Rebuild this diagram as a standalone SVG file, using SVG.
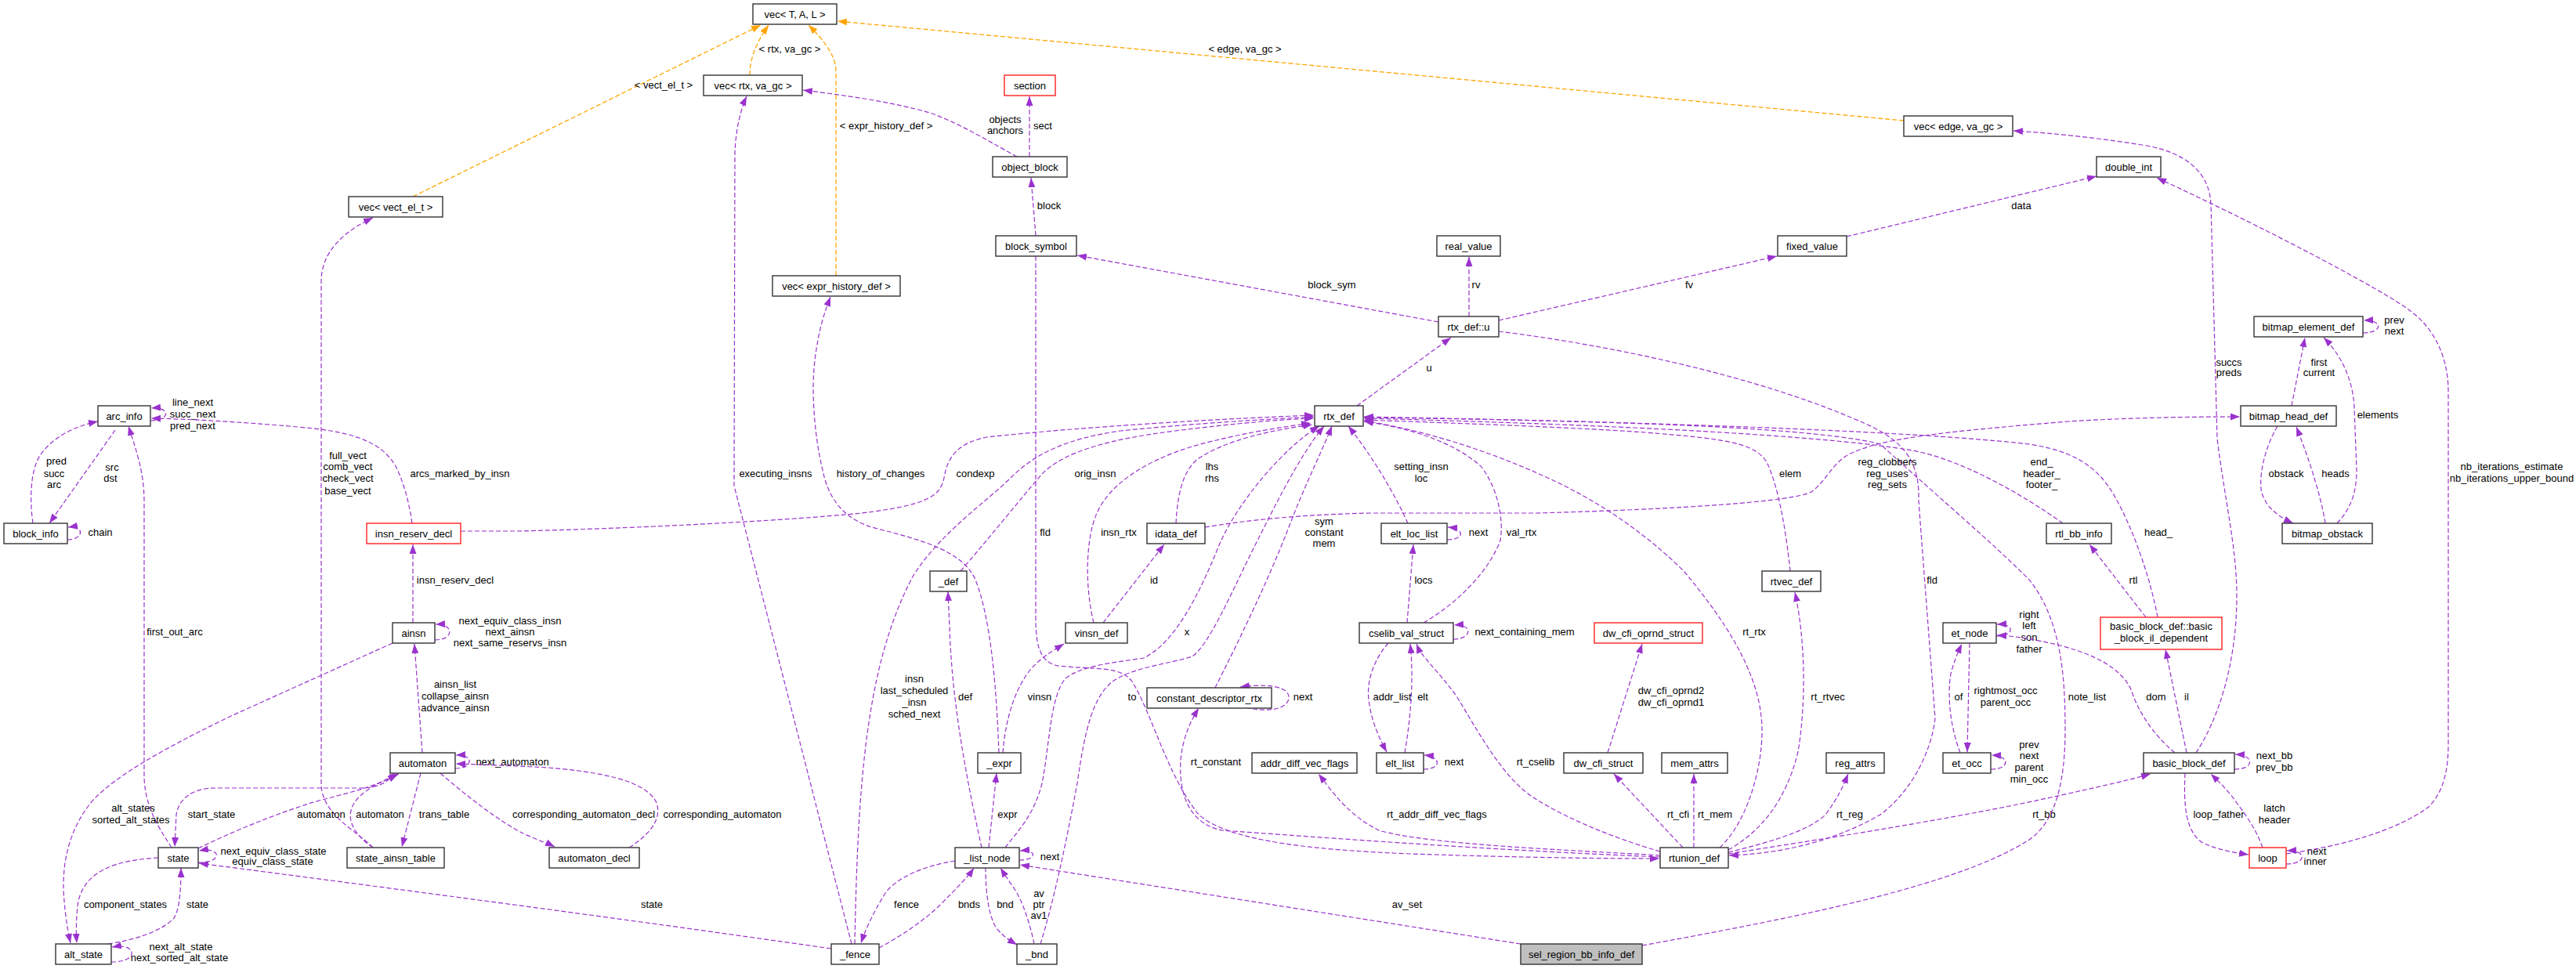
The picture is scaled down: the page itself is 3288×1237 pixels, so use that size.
<svg xmlns="http://www.w3.org/2000/svg" width="3288" height="1237" viewBox="0 0 3288 1237">
<defs>
<marker id="a" viewBox="0 0 12 9" refX="12" refY="4.5" markerWidth="12" markerHeight="9" markerUnits="userSpaceOnUse" orient="auto"><path d="M0,0L12,4.5L0,9z" fill="#9a32cd"/></marker>
<marker id="ao" viewBox="0 0 12 9" refX="12" refY="4.5" markerWidth="12" markerHeight="9" markerUnits="userSpaceOnUse" orient="auto"><path d="M0,0L12,4.5L0,9z" fill="#ffa500"/></marker>
<style>
.e{fill:none;stroke:#9a32cd;stroke-width:1.2;stroke-dasharray:6,3;marker-end:url(#a)}
.o{fill:none;stroke:#ffa500;stroke-width:1.3;stroke-dasharray:6,3;marker-end:url(#ao)}
text{font-family:"Liberation Sans",Arial,sans-serif;font-size:13px;text-anchor:middle;fill:#000}
.n rect{fill:#fff;stroke:#333;stroke-width:1.4}
.r rect{fill:#fff;stroke:#ff2020;stroke-width:1.4}
.g rect{fill:#bfbfbf;stroke:#333;stroke-width:1.4}
</style>
</defs>
<rect width="3288" height="1237" fill="#fff"/>
<g id="edges">
<path class="o" d="M527,251 L971,32"/><text x="847" y="113">&lt; vect_el_t &gt;</text>
<path class="o" d="M957,96 C957,75 965,55 981,32"/><text x="1008" y="67">&lt; rtx, va_gc &gt;</text>
<path class="o" d="M1067,352 L1067,91 C1067,70 1050,50 1032,32"/><text x="1131" y="165">&lt; expr_history_def &gt;</text>
<path class="o" d="M2430,154 L1069,27"/><text x="1589" y="67">&lt; edge, va_gc &gt;</text>

<path class="e" d="M476,1082 C455,1060 410,1040 410,1000 L410,360 C410,320 440,295 476,278"/>
<text x="444" y="586">full_vect</text><text x="444" y="600">comb_vect</text><text x="444" y="615">check_vect</text><text x="444" y="631">base_vect</text>
<path class="e" d="M192,537 C218,537 218,519 193,521"/>
<text x="246" y="518">line_next</text><text x="246" y="533">succ_next</text><text x="246" y="548">pred_next</text>
<path class="e" d="M42,668 C38,640 38,600 52,580 C70,555 100,543 125,538"/>
<text x="72" y="593">pred</text><text x="69" y="609">succ</text><text x="69" y="623">arc</text>
<path class="e" d="M147,549 L63,668"/><text x="143" y="601">src</text><text x="141" y="615">dst</text>
<path class="e" d="M86,689 C108,689 108,670 87,673"/><text x="128" y="684">chain</text>
<path class="e" d="M219,1082 C205,1060 184,1030 184,990 L184,640 C184,600 172,570 164,544"/><text x="223" y="811">first_out_arc</text>
<path class="e" d="M526,668 C522,640 515,615 505,595 C485,560 440,550 380,545 C300,538 240,535 193,534"/><text x="587" y="609">arcs_marked_by_insn</text>
<path class="e" d="M527,795 L527,695"/><text x="581" y="745">insn_reserv_decl</text>
<path class="e" d="M555,817 C580,817 580,796 556,797"/>
<text x="651" y="797">next_equiv_class_insn</text><text x="651" y="811">next_ainsn</text><text x="651" y="825">next_same_reservs_insn</text>
<path class="e" d="M501,821 L295,914 C200,960 150,990 120,1020 C85,1060 78,1110 82,1150 C84,1175 87,1190 90,1204"/>
<text x="170" y="1036">alt_states</text><text x="167" y="1051">sorted_alt_states</text>
<path class="e" d="M202,1095 C150,1098 110,1110 100,1150 C97,1170 97,1190 98,1204"/><text x="160" y="1159">component_states</text>
<path class="e" d="M138,1205 C170,1200 205,1190 222,1172 C230,1160 231,1130 231,1108"/><text x="252" y="1159">state</text>
<path class="e" d="M142,1228 C160,1228 170,1222 168,1215 C165,1208 155,1207 143,1209"/>
<text x="231" y="1213">next_alt_state</text><text x="229" y="1227">next_sorted_alt_state</text>
<path class="e" d="M253,1101 C272,1101 278,1095 276,1090 C273,1085 265,1084 254,1086"/>
<text x="349" y="1091">next_equiv_class_state</text><text x="348" y="1104">equiv_class_state</text>
<path class="e" d="M503,987 C495,1000 480,1006 460,1006 L275,1006 C245,1006 228,1020 225,1040 L223,1081"/><text x="270" y="1044">start_state</text>
<path class="e" d="M253,1083 C300,1060 350,1040 400,1024 C440,1013 480,1005 507,988"/><text x="410" y="1044">automaton</text>
<path class="e" d="M476,1082 C455,1068 444,1050 448,1035 C452,1015 480,1000 509,988"/><text x="485" y="1044">automaton</text>
<path class="e" d="M537,987 L513,1081"/><text x="567" y="1044">trans_table</text>
<path class="e" d="M539,961 L529,822"/>
<text x="581" y="878">ainsn_list</text><text x="581" y="893">collapse_ainsn</text><text x="581" y="908">advance_ainsn</text>
<path class="e" d="M581,981 C604,981 606,963 582,964"/><text x="654" y="977">next_automaton</text>
<path class="e" d="M803,1082 C830,1065 845,1045 838,1025 C825,995 760,985 700,980 C650,977 610,976 582,975"/><text x="922" y="1044">corresponding_automaton</text>
<path class="e" d="M562,987 C600,1020 640,1050 668,1064 C685,1072 700,1077 708,1081"/><text x="745" y="1044">corresponding_automaton_decl</text>
<path class="e" d="M1061,1211 C900,1188 700,1160 254,1102"/><text x="832" y="1159">state</text>
<path class="e" d="M1087,1205 L937,620 L938,200 C938,170 945,140 953,123"/><text x="990" y="609">executing_insns</text>
<path class="e" d="M1275,961 C1272,880 1265,790 1245,740 C1230,705 1180,690 1120,675 C1080,665 1058,640 1050,600 C1040,560 1035,500 1040,460 C1045,420 1052,400 1060,379"/><text x="1124" y="609">history_of_changes</text>
<path class="e" d="M1091,1205 C1095,1000 1105,850 1165,736 C1200,680 1260,640 1290,610 C1320,580 1360,560 1430,550 C1530,540 1620,535 1677,532"/>
<text x="1167" y="871">insn</text><text x="1167" y="886">last_scheduled</text><text x="1167" y="901">_insn</text><text x="1167" y="916">sched_next</text>
<path class="e" d="M1253,1082 C1235,1000 1215,900 1212,800 L1210,755"/><text x="1232" y="894">def</text>
<path class="e" d="M1262,1082 L1272,987"/><text x="1286" y="1044">expr</text>
<path class="e" d="M1219,1099 C1180,1105 1145,1120 1130,1140 C1115,1165 1105,1185 1099,1204"/><text x="1157" y="1159">fence</text>
<path class="e" d="M1122,1210 C1150,1195 1180,1175 1200,1155 C1220,1135 1235,1120 1243,1108"/><text x="1237" y="1159">bnds</text>
<path class="e" d="M1258,1107 C1258,1140 1262,1170 1272,1185 C1280,1195 1288,1200 1298,1206"/><text x="1283" y="1159">bnd</text>
<path class="e" d="M1320,1205 C1315,1180 1305,1150 1295,1135 C1288,1125 1282,1116 1277,1108"/>
<text x="1326" y="1145">av</text><text x="1326" y="1159">ptr</text><text x="1326" y="1173">av1</text>
<path class="e" d="M1301,1098 C1324,1098 1324,1084 1302,1086"/><text x="1340" y="1098">next</text>
<path class="e" d="M1941,1205 L1302,1104"/><text x="1796" y="1159">av_set</text>
<path class="e" d="M1328,1205 C1345,1150 1360,1080 1375,1000 C1385,930 1395,890 1420,870 C1445,852 1490,848 1522,838 C1545,820 1570,760 1600,700 C1630,640 1660,580 1690,544"/><text x="1445" y="894">to</text>
<path class="e" d="M1283,1082 C1300,1060 1320,1040 1330,1000 C1340,950 1340,890 1360,866 C1380,850 1420,846 1460,840 C1500,820 1530,760 1556,696 C1580,640 1640,570 1684,544"/><text x="1515" y="811">x</text>
<path class="e" d="M1501,668 C1503,630 1510,600 1530,585 C1570,560 1620,550 1675,542"/><text x="1547" y="600">lhs</text><text x="1547" y="615">rhs</text>
<path class="e" d="M1408,795 L1486,695"/><text x="1473" y="745">id</text>
<path class="e" d="M1396,795 C1385,750 1385,690 1400,655 C1420,610 1480,580 1540,565 C1600,550 1640,545 1673,540"/><text x="1428" y="684">insn_rtx</text>
<path class="e" d="M1226,729 C1260,690 1300,640 1330,605 C1360,575 1420,560 1500,550 C1580,540 1640,535 1677,534"/><text x="1398" y="609">orig_insn</text>
<path class="e" d="M588,678 L660,678 C800,675 1000,665 1100,655 C1180,645 1200,635 1205,610 C1210,580 1225,565 1260,558 C1380,545 1550,535 1677,530"/><text x="1245" y="609">condexp</text>
<path class="e" d="M1551,878 C1580,820 1620,740 1650,660 C1670,610 1690,570 1700,544"/>
<text x="1690" y="670">sym</text><text x="1690" y="684">constant</text><text x="1690" y="698">mem</text>
<path class="e" d="M1590,903 C1620,910 1645,905 1645,890 C1645,877 1620,872 1583,877"/><text x="1663" y="894">next</text>
<path class="e" d="M1797,668 C1780,630 1750,580 1721,544"/><text x="1814" y="600">setting_insn</text><text x="1814" y="615">loc</text>
<path class="e" d="M1847,689 C1870,689 1870,675 1848,673"/><text x="1887" y="684">next</text>
<path class="e" d="M1796,795 L1804,695"/><text x="1817" y="745">locs</text>
<path class="e" d="M1817,795 C1860,770 1900,730 1915,690 C1920,660 1910,620 1890,595 C1850,560 1790,545 1741,538"/><text x="1942" y="684">val_rtx</text>
<path class="e" d="M1855,816 C1880,816 1880,796 1856,798"/><text x="1946" y="811">next_containing_mem</text>
<path class="e" d="M1793,961 C1800,920 1805,870 1800,822"/><text x="1816" y="894">elt</text>
<path class="e" d="M1772,821 C1755,840 1742,870 1748,900 C1752,925 1762,945 1770,960"/><text x="1777" y="894">addr_list</text>
<path class="e" d="M1817,982 C1840,982 1840,966 1818,964"/><text x="1856" y="977">next</text>
<path class="e" d="M2119,1087 C2060,1070 2000,1045 1960,1020 C1920,995 1890,940 1860,890 C1835,855 1815,840 1808,822"/><text x="1960" y="977">rt_cselib</text>
<path class="e" d="M2119,1094 C1900,1085 1700,1070 1560,1060 C1510,1050 1505,1000 1507,970 C1510,940 1520,920 1530,904"/><text x="1552" y="977">rt_constant</text>
<path class="e" d="M2119,1092 C2000,1085 1820,1078 1760,1060 C1720,1040 1700,1010 1683,988"/><text x="1834" y="1044">rt_addr_diff_vec_flags</text>
<path class="e" d="M1322,327 L1322,790 C1322,830 1330,845 1350,850 C1400,855 1430,850 1445,870 C1470,910 1490,990 1530,1040 C1570,1075 1680,1085 1800,1090 C1950,1095 2050,1096 2118,1096"/><text x="1334" y="684">fld</text>
<path class="e" d="M2148,1082 L2060,988"/><text x="2142" y="1044">rt_cfi</text>
<path class="e" d="M2162,1082 L2162,988"/><text x="2189" y="1044">rt_mem</text>
<path class="e" d="M2052,961 L2096,822"/><text x="2133" y="886">dw_cfi_oprnd2</text><text x="2133" y="901">dw_cfi_oprnd1</text>
<path class="e" d="M2195,1082 C2230,1050 2250,980 2249,930 C2248,860 2200,790 2150,730 C2100,680 2040,640 1980,612 C1900,575 1820,550 1741,537"/><text x="2239" y="811">rt_rtx</text>
<path class="e" d="M2206,1085 C2250,1060 2280,1020 2295,960 C2305,900 2305,820 2291,756"/><text x="2333" y="894">rt_rtvec</text>
<path class="e" d="M2285,729 C2280,680 2270,620 2255,590 C2240,565 2200,560 2100,552 C2000,545 1850,540 1741,536"/><text x="2285" y="609">elem</text>
<path class="e" d="M2206,1088 C2260,1075 2310,1060 2330,1040 C2345,1020 2352,1005 2359,988"/><text x="2361" y="1044">rt_reg</text>
<path class="e" d="M1913,423 C2050,440 2250,480 2390,545 C2440,570 2450,600 2449,640 L2470,917 C2465,960 2440,1010 2400,1040 C2330,1080 2260,1090 2207,1092"/><text x="2466" y="745">fld</text>
<path class="e" d="M1913,409 L2268,327"/><text x="2156" y="368">fv</text>
<path class="e" d="M1875,404 L1875,328"/><text x="1884" y="368">rv</text>
<path class="e" d="M1836,411 L1375,326"/><text x="1700" y="368">block_sym</text>
<path class="e" d="M1732,518 L1852,431"/><text x="1824" y="474">u</text>
<path class="e" d="M2357,302 L2676,225"/><text x="2580" y="267">data</text>
<path class="e" d="M1322,301 L1316,227"/><text x="1339" y="267">block</text>
<path class="e" d="M1314,200 L1314,123"/><text x="1331" y="165">sect</text>
<path class="e" d="M1298,200 C1270,185 1230,160 1190,145 C1140,130 1080,122 1025,115"/><text x="1283" y="157">objects</text><text x="1283" y="171">anchors</text>
<path class="e" d="M2925,518 L2942,431"/><text x="2960" y="467">first</text><text x="2960" y="480">current</text>
<path class="e" d="M3016,425 C3042,425 3042,408 3017,409"/><text x="3056" y="413">prev</text><text x="3056" y="427">next</text>
<path class="e" d="M2983,668 C3000,650 3008,630 3008,600 L3005,520 C3003,480 2985,450 2966,431"/><text x="3035" y="534">elements</text>
<path class="e" d="M2907,544 C2892,570 2884,600 2886,625 C2890,645 2905,658 2927,668"/><text x="2918" y="609">obstack</text>
<path class="e" d="M2968,668 C2962,630 2945,580 2931,545"/><text x="2981" y="609">heads</text>
<path class="e" d="M2548,812 C2572,812 2572,796 2549,797"/>
<text x="2590" y="789">right</text><text x="2590" y="803">left</text><text x="2590" y="818">son</text><text x="2590" y="833">father</text>
<path class="e" d="M2776,961 C2745,935 2728,905 2720,880 C2705,850 2670,835 2630,824 C2600,817 2575,812 2549,811"/><text x="2752" y="894">dom</text>
<path class="e" d="M2502,961 C2490,930 2485,890 2490,860 C2494,845 2499,833 2504,822"/><text x="2500" y="894">of</text>
<path class="e" d="M2514,821 L2511,960"/><text x="2560" y="886">rightmost_occ</text><text x="2560" y="901">parent_occ</text>
<path class="e" d="M2541,982 C2566,982 2566,965 2542,964"/>
<text x="2590" y="955">prev</text><text x="2590" y="969">next</text><text x="2590" y="984">parent</text><text x="2590" y="999">min_occ</text>
<path class="e" d="M2206,1090 C2300,1075 2500,1045 2640,1013 C2690,1002 2720,995 2745,988"/><text x="2609" y="1044">rt_bb</text>
<path class="e" d="M2096,1207 C2300,1170 2500,1130 2590,1072 C2630,1045 2636,980 2636,930 C2636,860 2630,790 2590,740 C2540,690 2480,640 2400,567 C2300,540 1900,535 1741,533"/><text x="2664" y="894">note_list</text>
<path class="e" d="M2633,668 C2580,630 2500,585 2440,575 C2300,550 1900,538 1741,534"/>
<text x="2606" y="594">end_</text><text x="2606" y="609">header_</text><text x="2606" y="623">footer_</text>
<path class="e" d="M2739,788 L2667,695"/><text x="2723" y="745">rtl</text>
<path class="e" d="M2754,788 C2745,740 2725,680 2700,635 C2675,590 2640,575 2590,567 C2400,545 1900,535 1741,532"/><text x="2755" y="684">head_</text>
<path class="e" d="M2791,961 L2764,829"/><text x="2791" y="894">il</text>
<path class="e" d="M2803,961 C2830,920 2855,850 2855,760 C2855,700 2840,640 2830,560 L2822,260 C2820,220 2790,195 2740,186 C2680,176 2620,170 2570,167"/>
<text x="2845" y="467">succs</text><text x="2845" y="480">preds</text>
<path class="e" d="M2852,982 C2878,982 2878,964 2853,963"/><text x="2903" y="969">next_bb</text><text x="2903" y="984">prev_bb</text>
<path class="e" d="M2789,987 C2787,1030 2790,1060 2810,1075 C2830,1085 2850,1088 2870,1091"/><text x="2832" y="1044">loop_father</text>
<path class="e" d="M2888,1082 C2880,1060 2870,1045 2855,1025 C2845,1010 2832,998 2822,988"/><text x="2903" y="1036">latch</text><text x="2903" y="1051">header</text>
<path class="e" d="M2918,1103 C2945,1103 2945,1085 2919,1086"/><text x="2957" y="1091">next</text><text x="2955" y="1104">inner</text>
<path class="e" d="M2918,1090 C2990,1080 3060,1060 3100,1030 C3120,1010 3125,980 3125,950 L3125,500 C3125,460 3110,420 3074,395 C3040,370 2900,295 2753,227"/>
<text x="3206" y="600">nb_iterations_estimate</text><text x="3206" y="615">nb_iterations_upper_bound</text>
<path class="e" d="M1538,673 C1600,663 1660,657 1750,655 L1960,655 C2150,650 2290,640 2312,628 C2330,615 2340,590 2360,580 C2400,560 2470,552 2640,538 C2720,533 2800,532 2859,532"/>
<text x="2409" y="594">reg_clobbers</text><text x="2409" y="609">reg_uses</text><text x="2409" y="623">reg_sets</text>
<path class="e" d="M1280,961 C1283,920 1295,880 1315,855 C1330,838 1345,830 1358,822"/><text x="1327" y="894">vinsn</text>
</g>
<g id="n_vecTAL" class="n"><rect x="961" y="5" width="107" height="26"/><text x="1014.5" y="22.5">vec&lt; T, A, L &gt;</text></g>
<g id="n_vecrtx" class="n"><rect x="898" y="96" width="126" height="26"/><text x="961" y="113.5">vec&lt; rtx, va_gc &gt;</text></g>
<g id="n_section" class="r"><rect x="1282" y="96" width="65" height="26"/><text x="1314.5" y="113.5">section</text></g>
<g id="n_object_block" class="n"><rect x="1267" y="200" width="95" height="26"/><text x="1314.5" y="217.5">object_block</text></g>
<g id="n_vecvect" class="n"><rect x="445" y="251" width="120" height="26"/><text x="505" y="268.5">vec&lt; vect_el_t &gt;</text></g>
<g id="n_vecedge" class="n"><rect x="2430" y="148" width="139" height="26"/><text x="2499.5" y="165.5">vec&lt; edge, va_gc &gt;</text></g>
<g id="n_double_int" class="n"><rect x="2676" y="200" width="82" height="26"/><text x="2717" y="217.5">double_int</text></g>
<g id="n_block_symbol" class="n"><rect x="1271" y="301" width="103" height="26"/><text x="1322.5" y="318.5">block_symbol</text></g>
<g id="n_real_value" class="n"><rect x="1834" y="301" width="81" height="26"/><text x="1874.5" y="318.5">real_value</text></g>
<g id="n_fixed_value" class="n"><rect x="2269" y="301" width="88" height="26"/><text x="2313" y="318.5">fixed_value</text></g>
<g id="n_vecehd" class="n"><rect x="986" y="352" width="163" height="26"/><text x="1067.5" y="369.5">vec&lt; expr_history_def &gt;</text></g>
<g id="n_rtx_def_u" class="n"><rect x="1836" y="404" width="77" height="26"/><text x="1874.5" y="421.5">rtx_def::u</text></g>
<g id="n_bitmap_element_def" class="n"><rect x="2877" y="404" width="139" height="26"/><text x="2946.5" y="421.5">bitmap_element_def</text></g>
<g id="n_arc_info" class="n"><rect x="125" y="518" width="67" height="26"/><text x="158.5" y="535.5">arc_info</text></g>
<g id="n_rtx_def" class="n"><rect x="1678" y="518" width="62" height="26"/><text x="1709" y="535.5">rtx_def</text></g>
<g id="n_bitmap_head_def" class="n"><rect x="2860" y="518" width="122" height="26"/><text x="2921" y="535.5">bitmap_head_def</text></g>
<g id="n_block_info" class="n"><rect x="5" y="668" width="81" height="26"/><text x="45.5" y="685.5">block_info</text></g>
<g id="n_insn_reserv_decl" class="r"><rect x="468" y="668" width="120" height="26"/><text x="528" y="685.5">insn_reserv_decl</text></g>
<g id="n_idata_def" class="n"><rect x="1464" y="668" width="74" height="26"/><text x="1501" y="685.5">idata_def</text></g>
<g id="n_elt_loc_list" class="n"><rect x="1763" y="668" width="84" height="26"/><text x="1805" y="685.5">elt_loc_list</text></g>
<g id="n_rtl_bb_info" class="n"><rect x="2612" y="668" width="83" height="26"/><text x="2653.5" y="685.5">rtl_bb_info</text></g>
<g id="n_bitmap_obstack" class="n"><rect x="2913" y="668" width="115" height="26"/><text x="2970.5" y="685.5">bitmap_obstack</text></g>
<g id="n_def" class="n"><rect x="1187" y="729" width="47" height="26"/><text x="1210.5" y="746.5">_def</text></g>
<g id="n_rtvec_def" class="n"><rect x="2249" y="729" width="75" height="26"/><text x="2286.5" y="746.5">rtvec_def</text></g>
<g id="n_bb_il_dependent" class="r"><rect x="2681" y="788" width="155" height="41"/><text x="2758.5" y="803.5">basic_block_def::basic</text><text x="2758.5" y="818.5">_block_il_dependent</text></g>
<g id="n_ainsn" class="n"><rect x="501" y="795" width="54" height="26"/><text x="528" y="812.5">ainsn</text></g>
<g id="n_vinsn_def" class="n"><rect x="1360" y="795" width="79" height="26"/><text x="1399.5" y="812.5">vinsn_def</text></g>
<g id="n_cselib_val_struct" class="n"><rect x="1735" y="795" width="120" height="26"/><text x="1795" y="812.5">cselib_val_struct</text></g>
<g id="n_dw_cfi_oprnd_struct" class="r"><rect x="2035" y="795" width="138" height="26"/><text x="2104" y="812.5">dw_cfi_oprnd_struct</text></g>
<g id="n_et_node" class="n"><rect x="2480" y="795" width="68" height="26"/><text x="2514" y="812.5">et_node</text></g>
<g id="n_constant_descriptor_rtx" class="n"><rect x="1464" y="878" width="159" height="26"/><text x="1543.5" y="895.5">constant_descriptor_rtx</text></g>
<g id="n_automaton" class="n"><rect x="498" y="961" width="83" height="26"/><text x="539.5" y="978.5">automaton</text></g>
<g id="n_expr" class="n"><rect x="1248" y="961" width="55" height="26"/><text x="1275.5" y="978.5">_expr</text></g>
<g id="n_addr_diff_vec_flags" class="n"><rect x="1598" y="961" width="134" height="26"/><text x="1665" y="978.5">addr_diff_vec_flags</text></g>
<g id="n_elt_list" class="n"><rect x="1757" y="961" width="60" height="26"/><text x="1787" y="978.5">elt_list</text></g>
<g id="n_dw_cfi_struct" class="n"><rect x="1996" y="961" width="101" height="26"/><text x="2046.5" y="978.5">dw_cfi_struct</text></g>
<g id="n_mem_attrs" class="n"><rect x="2121" y="961" width="84" height="26"/><text x="2163" y="978.5">mem_attrs</text></g>
<g id="n_reg_attrs" class="n"><rect x="2331" y="961" width="74" height="26"/><text x="2368" y="978.5">reg_attrs</text></g>
<g id="n_et_occ" class="n"><rect x="2480" y="961" width="61" height="26"/><text x="2510.5" y="978.5">et_occ</text></g>
<g id="n_basic_block_def" class="n"><rect x="2736" y="961" width="116" height="26"/><text x="2794" y="978.5">basic_block_def</text></g>
<g id="n_state" class="n"><rect x="202" y="1082" width="51" height="26"/><text x="227.5" y="1099.5">state</text></g>
<g id="n_state_ainsn_table" class="n"><rect x="443" y="1082" width="124" height="26"/><text x="505" y="1099.5">state_ainsn_table</text></g>
<g id="n_automaton_decl" class="n"><rect x="701" y="1082" width="115" height="26"/><text x="758.5" y="1099.5">automaton_decl</text></g>
<g id="n_list_node" class="n"><rect x="1219" y="1082" width="82" height="26"/><text x="1260" y="1099.5">_list_node</text></g>
<g id="n_rtunion_def" class="n"><rect x="2119" y="1082" width="87" height="26"/><text x="2162.5" y="1099.5">rtunion_def</text></g>
<g id="n_loop" class="r"><rect x="2871" y="1082" width="47" height="26"/><text x="2894.5" y="1099.5">loop</text></g>
<g id="n_alt_state" class="n"><rect x="71" y="1205" width="71" height="26"/><text x="106.5" y="1222.5">alt_state</text></g>
<g id="n_fence" class="n"><rect x="1061" y="1205" width="61" height="26"/><text x="1091.5" y="1222.5">_fence</text></g>
<g id="n_bnd" class="n"><rect x="1298" y="1205" width="51" height="26"/><text x="1323.5" y="1222.5">_bnd</text></g>
<g id="n_sel_region_bb_info_def" class="g"><rect x="1941" y="1205" width="155" height="26"/><text x="2018.5" y="1222.5">sel_region_bb_info_def</text></g>
</svg>
